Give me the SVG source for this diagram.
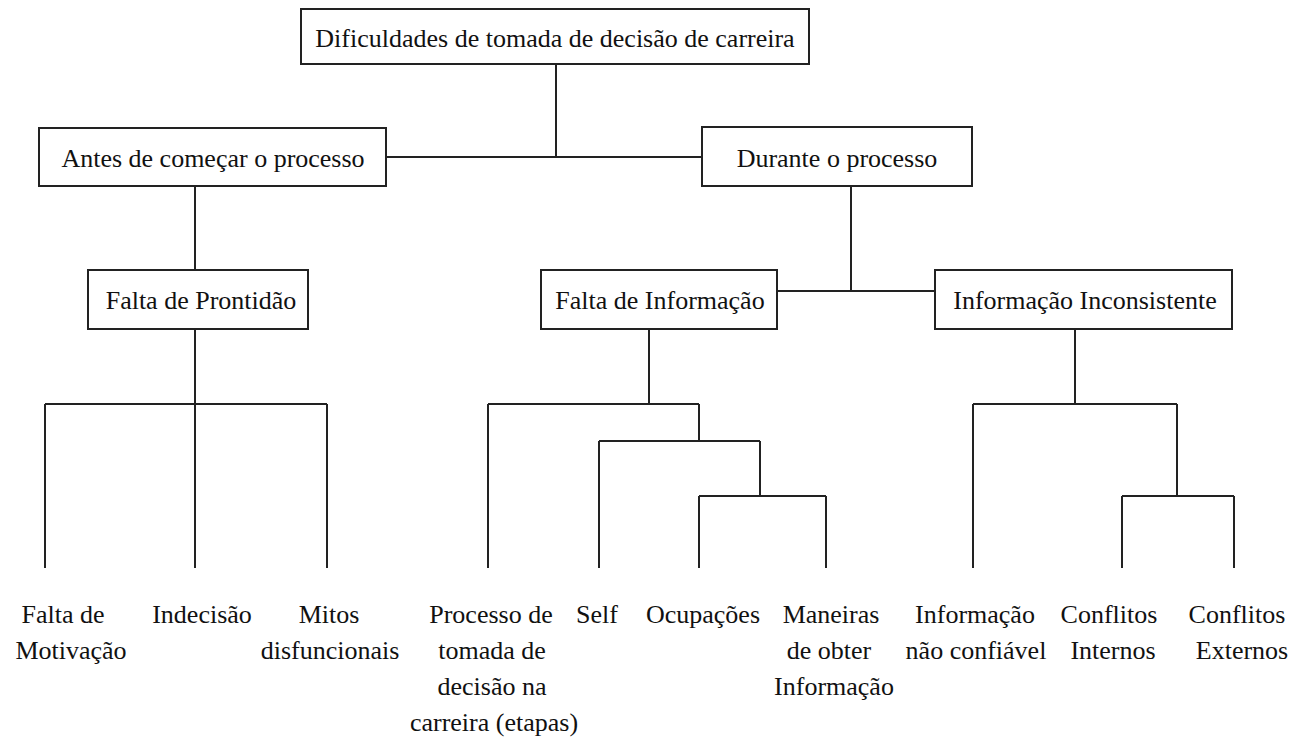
<svg xmlns="http://www.w3.org/2000/svg" width="1305" height="738" viewBox="0 0 1305 738">
<style>
.box{fill:#fff;stroke:#222;stroke-width:2}
.ln{fill:none;stroke:#222;stroke-width:2}
.t text{font-size:26px;fill:#111;text-anchor:middle}
</style>
<rect x="0" y="0" width="1305" height="738" fill="#fff"/>
<g id="connectors" class="ln">
<path d="M556 64V157M386 157H702"/>
<path d="M195 186V270"/>
<path d="M851 186V291M777 291H935"/>
<path d="M195 329V404M45 404H327M45 404V568M195 404V568M327 404V568"/>
<path d="M649 329V404M488 404H699M488 404V568M699 404V441M599 441H760M599 441V568M760 441V496M699 496H826M699 496V568M826 496V568"/>
<path d="M1075 329V404M973 404H1177M973 404V568M1177 404V496M1122 496H1234M1122 496V568M1234 496V568"/>
</g>
<g class="t" font-family="'Liberation Serif', 'Times New Roman', 'DejaVu Serif', serif">
<g id="root"><rect class="box" x="301" y="9" width="508" height="55"/><text x="555" y="47">Dificuldades de tomada de decisão de carreira</text></g>
<g id="antes"><rect class="box" x="39" y="128" width="347" height="58"/><text x="213" y="167">Antes de começar o processo</text></g>
<g id="durante"><rect class="box" x="702" y="127" width="270" height="59"/><text x="837" y="167">Durante o processo</text></g>
<g id="prontidao"><rect class="box" x="88" y="270" width="220" height="59"/><text x="201" y="309">Falta de Prontidão</text></g>
<g id="falta-info"><rect class="box" x="541" y="270" width="236" height="59"/><text x="660" y="309">Falta de Informação</text></g>
<g id="info-inconsistente"><rect class="box" x="935" y="270" width="297" height="59"/><text x="1085" y="309">Informação Inconsistente</text></g>
<g id="motivacao"><text x="63" y="623">Falta de</text><text x="71" y="659">Motivação</text></g>
<g id="indecisao"><text x="202" y="623">Indecisão</text></g>
<g id="mitos"><text x="329" y="623">Mitos</text><text x="330" y="659">disfuncionais</text></g>
<g id="processo"><text x="491" y="623">Processo de</text><text x="492" y="659">tomada de</text><text x="492" y="695">decisão na</text><text x="494" y="731">carreira (etapas)</text></g>
<g id="self"><text x="597" y="623">Self</text></g>
<g id="ocupacoes"><text x="703" y="623">Ocupações</text></g>
<g id="maneiras"><text x="831" y="623">Maneiras</text><text x="829" y="659">de obter</text><text x="834" y="695">Informação</text></g>
<g id="nao-confiavel"><text x="975" y="623">Informação</text><text x="976" y="659">não confiável</text></g>
<g id="internos"><text x="1109" y="623">Conflitos</text><text x="1113" y="659">Internos</text></g>
<g id="externos"><text x="1237" y="623">Conflitos</text><text x="1242" y="659">Externos</text></g>
</g>
</svg>
